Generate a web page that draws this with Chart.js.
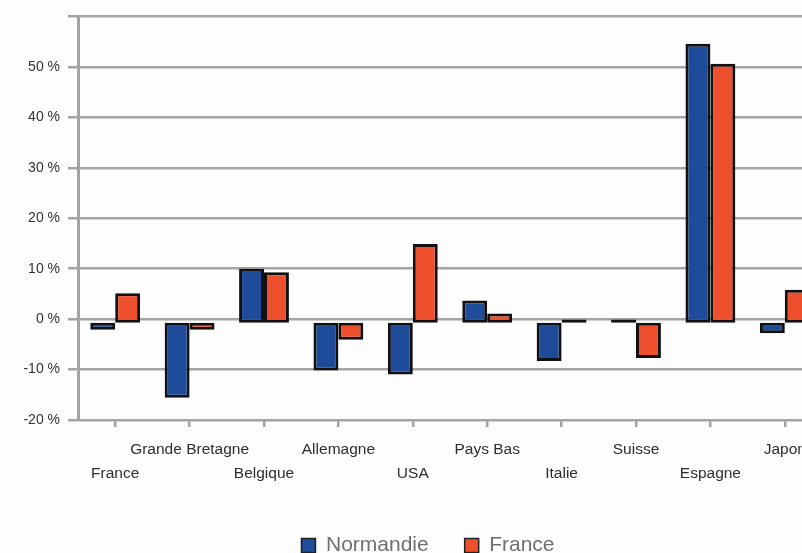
<!DOCTYPE html>
<html>
<head>
<meta charset="utf-8">
<script src="https://cdn.jsdelivr.net/npm/chart.js@4/dist/chart.umd.min.js"></script>
<style>
  html, body { margin: 0; padding: 0; background: #fdfdfd; overflow: hidden; }
  #wrap { width: 856px; height: 570px; }
</style>
</head>
<body>
<div id="wrap"><canvas id="c" width="856" height="570"></canvas></div>
<script>
// Évolution par pays d'origine : Normandie vs France (%)
const pays = ['France', 'Grande Bretagne', 'Belgique', 'Allemagne', 'USA',
              'Pays Bas', 'Italie', 'Suisse', 'Espagne', 'Japon'];
const normandie = [-2.1, -15.6, 10.0, -10.2, -11.0, 3.7, -8.3, -0.1, 54.6, -2.8];
const france    = [ 5.1,  -2.1,  9.3,  -4.1,  14.9, 1.1, -0.1, -7.7, 50.6, 5.8];
const yMin = -20, yMax = 60, yStep = 10;
const seriesNames = ['Normandie', 'France'];

// labels alternate between two rows so the long names do not collide
const labels = pays.map((p, i) => (i % 2 === 0 ? ['', p] : [p, '']));

const grey = '#a4a4a4';
const barBase = -0.7;

const chart = new Chart(document.getElementById('c'), {
  type: 'bar',
  data: {
    labels: labels,
    datasets: [
      { label: seriesNames[0], data: normandie, backgroundColor: '#1e4c9a' },
      { label: seriesNames[1], data: france, backgroundColor: '#ee4f2c' }
    ]
  },
  options: {
    responsive: false,
    devicePixelRatio: 1,
    animation: false,
    layout: { padding: { left: 0, right: 34, top: 15, bottom: 4 } },
    datasets: {
      bar: {
        base: barBase,
        borderColor: '#111111',
        borderWidth: 3,
        borderSkipped: false,
        categoryPercentage: 0.67,
        barPercentage: 1.0
      }
    },
    scales: {
      x: {
        grid: { offset: false, drawOnChartArea: false, drawTicks: true, tickLength: 7, color: grey, lineWidth: 2.5 },
        border: { display: false },
        ticks: {
          color: '#2e2e2e',
          font: { family: 'Liberation Sans', size: 15.5, lineHeight: 1.55 },
          padding: 11,
          maxRotation: 0,
          autoSkip: false
        },
        afterFit: (s) => { s.height = 79; }
      },
      y: {
        min: yMin,
        max: yMax,
        grid: { color: grey, lineWidth: 2.5, tickLength: 10 },
        border: { color: grey, width: 3 },
        ticks: {
          stepSize: yStep,
          color: '#333333',
          font: { family: 'Liberation Sans', size: 14 },
          padding: 8,
          callback: (v) => (v === yMax ? '' : v + ' %')
        },
        afterFit: (s) => { s.width = 78; }
      }
    },
    plugins: {
      tooltip: { enabled: false },
      legend: {
        position: 'bottom',
        labels: {
          color: '#6f6f6f',
          font: { family: 'Liberation Sans', size: 21 },
          boxWidth: 14,
          boxHeight: 14,
          padding: 36,
          generateLabels: (c) => c.data.datasets.map((d, i) => ({
            text: d.label,
            fillStyle: d.backgroundColor,
            strokeStyle: '#222222',
            lineWidth: 1.5,
            fontColor: '#6f6f6f',
            datasetIndex: i,
            hidden: false
          }))
        }
      }
    }
  }
});

// the legend is centred on the full page width, a little right of the plot's centre
const drawLegend = chart.legend.draw.bind(chart.legend);
chart.legend.draw = function () {
  const ctx = chart.ctx;
  ctx.save();
  ctx.translate(17, 0);
  drawLegend();
  ctx.restore();
};
chart.draw();
</script>
</body>
</html>
